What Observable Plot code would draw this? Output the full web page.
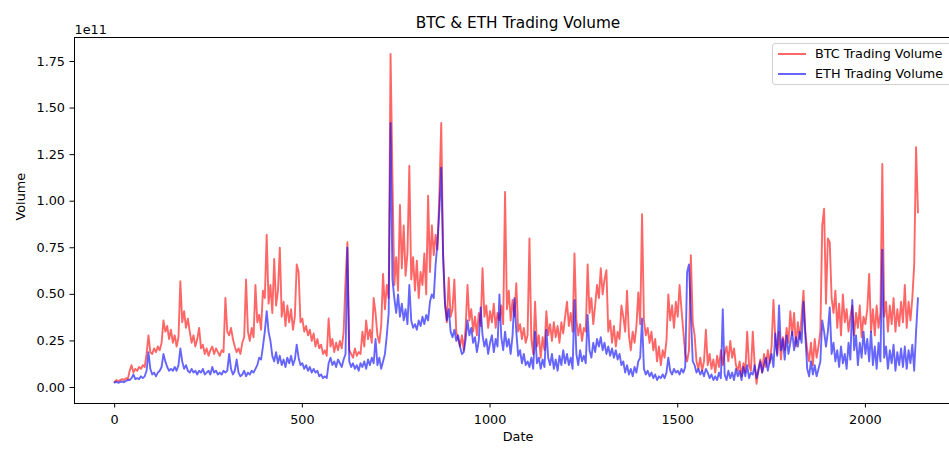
<!DOCTYPE html>
<html>
<head>
<meta charset="utf-8">
<script src="https://cdn.jsdelivr.net/npm/d3@7"></script>
<script src="https://cdn.jsdelivr.net/npm/@observablehq/plot@0.6"></script>
<style>
  body { margin: 0; background: #fff; }
  #wrap { position: relative; width: 949px; height: 459px; overflow: hidden; font-family: "DejaVu Sans", sans-serif; }
  #wrap svg { max-width: none !important; }
  .legend { position: absolute; left: 772px; top: 43px; width: 200px; height: 42px; box-sizing: border-box;
            border: 1px solid #d0d0d0; border-radius: 3px; background: rgba(255,255,255,0.8); }
  .legend .sw { position: absolute; left: 5px; width: 28px; height: 2px; }
  .legend .lb { position: absolute; left: 42px; font-size: 12.8px; line-height: 15px; color: #000; white-space: nowrap; }
</style>
</head>
<body>
<div id="wrap"></div>
<script>
// Daily trading volume, one reading every 5 days, in billions (1e9)
const dayStep = 5;
const btcVolume = [
  3,4,3.5,4,4.5,4,5,4.5,9,12,8,10,9,11,10,12,11,18,28,19,
  18,21,19,22,20,24,36,30,33,26,31,24,28,22,27,57,35,41,32,37,
  30,24,28,22,26,32,21,23,18,21,17,20,22,18,21,19,17,20,19,48,
  30,28,32,26,22,19,21,18,24,27,58,30,25,32,27,55,35,39,31,52,
  48,82,45,55,40,69,44,52,75,38,46,33,44,35,42,31,38,66,62,35,
  37,30,33,28,31,25,29,22,26,21,23,18,20,17,37,22,26,19,24,20,
  25,21,30,57,78,20,18,16,21,17,19,18,30,22,36,26,31,24,48,40,
  28,24,33,61,42,55,48,179,113,55,70,52,98,64,87,60,72,119,58,70,
  52,68,48,62,55,72,50,103,62,87,71,82,74,104,142,72,45,35,59,38,
  42,58,30,26,22,28,20,32,55,36,42,30,38,28,40,33,64,38,44,32,
  41,35,45,32,40,36,44,34,105,42,52,36,47,38,56,30,34,26,32,24,
  28,80,26,18,46,22,28,16,27,20,41,28,34,25,35,27,33,24,35,29,
  38,46,33,40,30,72,36,28,34,25,32,30,66,40,48,34,44,55,48,64,
  50,58,63,30,36,24,33,22,30,26,44,38,30,52,28,20,30,24,33,51,
  34,93,36,28,32,24,30,20,26,14,22,12,20,16,25,50,36,44,32,46,
  38,55,42,30,18,14,20,71,35,28,14,10,16,9,14,31,12,18,10,15,
  8,17,11,20,12,18,22,14,25,16,21,12,9,14,6,13,8,30,12,9,
  30,12,2,10,15,8,18,11,20,13,22,47,26,18,30,15,27,20,32,24,
  41,28,40,22,35,26,38,52,30,20,14,24,12,26,16,22,30,87,96,45,
  80,78,48,40,52,32,45,28,50,35,42,30,38,44,28,40,32,44,27,38,
  34,42,61,30,42,28,44,32,40,120,38,46,30,44,34,48,30,42,33,46,
  35,55,32,46,36,48,66,129,94
];
const ethVolume = [
  2.7,3,2.5,3,3.2,2.8,3.5,4,4,5,7,4.5,5,4.5,6,5,6,9,19,10,
  7,8,6,8,9,11,18,14,11,9,10,9,11,9,12,21,14,10,12,9,
  8,10,8,9,7,9,8,10,7,8,9,7,11,8,9,7,8,7,9,8,
  9,18,10,7,9,15,8,6,7,9,6,8,7,9,8,10,12,16,15,22,
  30,41,30,25,17,14,19,13,17,12,15,11,16,13,17,12,15,23,16,12,
  13,10,12,9,11,8,10,8,9,6,7,5,6,5,13,16,12,14,11,15,
  13,11,15,18,75,14,11,13,10,12,9,13,11,14,10,15,12,16,13,26,
  12,16,10,14,18,28,40,142,58,48,40,50,38,45,36,42,34,55,36,32,
  34,31,36,33,38,34,39,36,46,50,48,66,78,95,118,70,45,36,42,30,
  27,31,25,28,22,18,19,26,36,28,32,24,27,19,25,43,28,22,26,18,
  24,28,19,26,22,50,27,20,30,22,26,18,28,48,30,17,20,13,18,12,
  14,11,16,10,30,13,16,10,15,11,31,16,12,18,10,15,9,17,12,20,
  13,18,12,16,10,47,18,12,20,14,17,13,39,20,16,24,19,26,22,27,
  20,24,18,22,17,21,16,20,15,18,12,14,8,12,7,10,6,11,8,14,
  16,37,10,7,9,6,8,5,7,4,6,5,7,5,8,16,9,7,10,8,
  9,7,10,8,11,62,66,40,14,12,8,10,7,9,6,10,8,5,7,4,
  6,4,8,5,42,7,4,9,5,8,4,10,6,9,4,11,6,12,5,8,
  7,12,5,9,14,8,12,16,9,14,18,11,29,17,44,20,26,15,28,18,
  24,30,20,27,22,30,24,46,28,10,6,14,7,12,6,10,14,36,30,22,
  30,43,18,24,14,20,11,22,13,18,10,24,15,47,20,28,12,24,16,30,
  18,26,14,30,12,22,10,24,14,74,16,22,10,20,13,23,9,19,12,21,
  11,22,10,20,13,23,9,30,48
];
const xTicks = [0, 500, 1000, 1500, 2000];
const yTicks = [0, 0.25, 0.5, 0.75, 1.0, 1.25, 1.5, 1.75].map(v => v * 1e11);
const seriesNames = ["BTC Trading Volume", "ETH Trading Volume"];
const seriesColors = ["red", "blue"];
const titleText = "BTC & ETH Trading Volume";

const rows = btcVolume.map((v, i) => ({
  day: i * dayStep,
  btc: v * 1e9,
  eth: ethVolume[i] * 1e9
}));

const chart = Plot.plot({
  width: 962,
  height: 459,
  marginLeft: 74,
  marginRight: 1,
  marginTop: 37,
  marginBottom: 56,
  style: { fontFamily: "DejaVu Sans, sans-serif", fontSize: "12.8px", color: "black", background: "white", overflow: "visible", maxWidth: "none" },
  x: { domain: [-107, 2256] },
  y: { domain: [-0.0859e11, 1.8787e11] },
  marks: [
    Plot.line(rows, { x: "day", y: "btc", stroke: seriesColors[0], strokeOpacity: 0.6, strokeWidth: 1.9 }),
    Plot.line(rows, { x: "day", y: "eth", stroke: seriesColors[1], strokeOpacity: 0.6, strokeWidth: 1.9 }),
    Plot.frame({ stroke: "black", strokeWidth: 1 }),
    Plot.axisX({ ticks: xTicks, tickSize: 4.5, tickPadding: 7, label: null, tickFormat: d => String(d), fontSize: 12.8 }),
    Plot.axisY({ ticks: yTicks, tickSize: 4.5, tickPadding: 5, label: null, tickFormat: d => (d / 1e11).toFixed(2), fontSize: 12.8 }),
    Plot.text([titleText], { frameAnchor: "top", text: d => d, dy: -20, fontSize: 15.3 }),
    Plot.text(["1e11"], { frameAnchor: "top-left", text: d => d, textAnchor: "start", dy: -13, fontSize: 12.8 }),
    Plot.text(["Date"], { frameAnchor: "bottom", text: d => d, dy: 37, fontSize: 12.8 }),
    Plot.text(["Volume"], { frameAnchor: "left", text: d => d, dx: -54, rotate: -90, fontSize: 12.8 })
  ]
});

const wrap = document.getElementById("wrap");
chart.style.maxWidth = "none";
wrap.appendChild(chart);

// Legend box in the upper-right corner of the axes
const legend = document.createElement("div");
legend.className = "legend";
seriesNames.forEach((name, i) => {
  const sw = document.createElement("div");
  sw.className = "sw";
  sw.style.top = (9 + i * 20) + "px";
  sw.style.background = seriesColors[i];
  sw.style.opacity = 0.6;
  const lb = document.createElement("div");
  lb.className = "lb";
  lb.style.top = (2 + i * 20) + "px";
  lb.textContent = name;
  legend.appendChild(sw);
  legend.appendChild(lb);
});
wrap.appendChild(legend);
</script>
</body>
</html>
